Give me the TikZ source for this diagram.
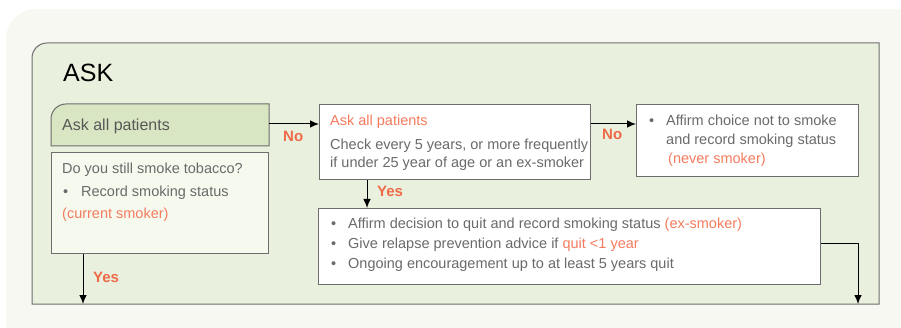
\documentclass[tikz,border=0pt]{standalone}
\usepackage{fontspec}
\setmainfont{Liberation Sans}
\usetikzlibrary{arrows.meta,calc,positioning}
\definecolor{paper}{HTML}{F7F8F2}
\definecolor{panelgreen}{HTML}{E9F0DD}
\definecolor{askgreen}{HTML}{D9E6C3}
\definecolor{smokefill}{HTML}{F6F9EE}
\definecolor{linegray}{HTML}{6E6E6E}
\definecolor{textgray}{HTML}{6A6A6A}
\definecolor{darkgray}{HTML}{575757}
\definecolor{hl}{HTML}{F47C5E}
\definecolor{lblorange}{HTML}{EE6A48}

\tikzset{
  box/.style={draw=linegray, line width=1pt, anchor=north west, inner sep=0pt},
  txt/.style={font=\fontsize{14.5}{17}\selectfont, text=textgray, inner sep=0pt, anchor=base west},
  lbl/.style={font=\fontsize{15}{17}\selectfont\bfseries, text=lblorange, inner sep=0pt, anchor=base west},
  flow/.style={-{Latex[length=9pt,width=7.5pt]}, black, line width=1pt}
}

\begin{document}
\begin{tikzpicture}[x=1pt,y=-1pt,>=latex]
   \useasboundingbox (0,0) rectangle (901,328);

   \fill[paper] (6,340) -- (6,39) arc[start angle=180,end angle=90,radius=30pt] -- (910,9) -- (910,340) -- cycle;
   \draw[draw=linegray, fill=panelgreen, line width=1pt] (32,304) -- (32,58) arc[start angle=180,end angle=90,radius=15pt] -- (879,43) -- (879,304) -- cycle;

   \node[inner sep=0pt, anchor=base west, font=\fontsize{25}{28}\selectfont] (askhead) at (63,82) {ASK};

   \node[box, draw=none, minimum width=217pt, minimum height=41pt] (ask) at (51,104) {};
   \draw[draw=linegray, fill=askgreen, line width=1pt] (ask.south west) -- ([yshift=-15pt]ask.north west) arc[start angle=180,end angle=90,radius=15pt] -- (ask.north east) -- (ask.south east) -- cycle;
   \node[box, fill=smokefill, minimum width=217pt, minimum height=101pt] (smoke) at (51,152) {};
   \node[box, fill=white, minimum width=271pt, minimum height=75pt] (check) at (319,104) {};
   \node[box, fill=white, minimum width=222pt, minimum height=72pt] (never) at (636,104) {};
   \node[box, fill=white, minimum width=502pt, minimum height=76pt] (ex) at (318,208) {};

   \node[txt, text=darkgray, font=\fontsize{16}{19}\selectfont] (asktext) at (62,131) {Ask all patients};

   \node[txt] (smoke1) at (62,174) {Do you still smoke tobacco?};
   \node[txt] (smokeb) at (63,197) {•};
   \node[txt] (smoke2) at (81,197) {Record smoking status};
   \node[txt, text=hl] (smoke3) at (62,219) {(current smoker)};

   \node[txt, text=hl] (check1) at (330,126) {Ask all patients};
   \node[txt] (check2) at (330,150) {Check every 5 years, or more frequently};
   \node[txt] (check3) at (330,168) {if under 25 year of age or an ex-smoker};

   \node[txt] (neverb) at (649,126) {•};
   \node[txt] (never1) at (666,126) {Affirm choice not to smoke};
   \node[txt] (never2) at (666,145) {and record smoking status};
   \node[txt, text=hl] (never3) at (668,164) {(never smoker)};

   \node[txt] (exb1) at (331,229) {•};
   \node[txt] (ex1) at (348,229) {Affirm decision to quit and record smoking status \textcolor{hl}{(ex-smoker)}};
   \node[txt] (exb2) at (331,249) {•};
   \node[txt] (ex2) at (348,249) {Give relapse prevention advice if \textcolor{hl}{quit <1 year}};
   \node[txt] (exb3) at (331,269) {•};
   \node[txt] (ex3) at (348,269) {Ongoing encouragement up to at least 5 years quit};

   \coordinate (out1) at (83,304);
   \coordinate (out2) at (858,304);
   \coordinate (down) at (367,0);

   \draw[flow] (ask.east |- 0,124) -- (check.west |- 0,124);
   \draw[flow] (check.east |- 0,124) -- (never.west |- 0,124);
   \draw[flow] (check.south -| down) -- (ex.north -| down);
   \draw[flow] (smoke.south -| out1) -- (out1);
   \draw[flow] (ex.east |- 0,244) -| (out2);

   \node[lbl] (no1) at (283,142) {No};
   \node[lbl] (no2) at (602,140) {No};
   \node[lbl] (yes1) at (377,197) {Yes};
   \node[lbl] (yes2) at (93,283) {Yes};

\end{tikzpicture}
\end{document}
